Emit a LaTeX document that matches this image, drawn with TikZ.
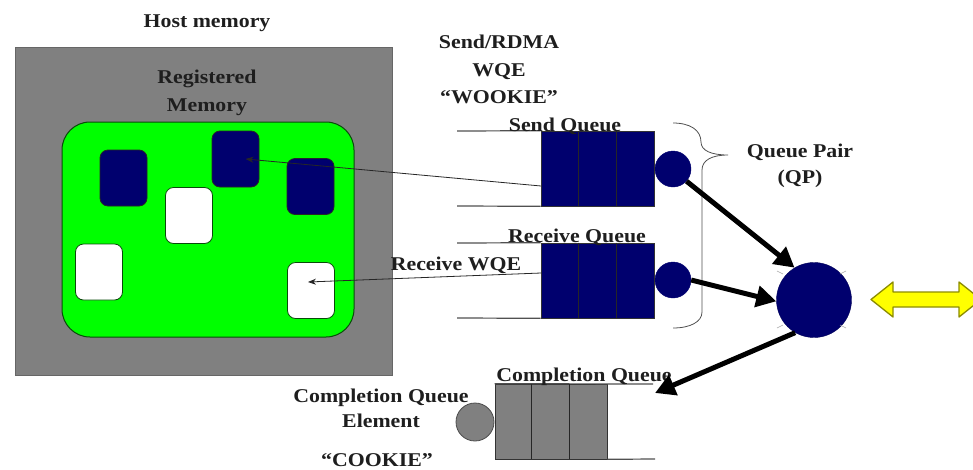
\documentclass[tikz,border=0pt]{standalone}
\usepackage{fontspec}
\setmainfont{Liberation Serif}[FakeStretch=1.12]
\usetikzlibrary{arrows.meta}
\definecolor{navy}{HTML}{00006E}
\definecolor{hostgray}{HTML}{808080}
\definecolor{regreen}{HTML}{00FF00}
\definecolor{dgreen}{HTML}{0A4A0A}
\definecolor{txt}{HTML}{1E1E1E}
\definecolor{qlinec}{HTML}{505050}
\definecolor{yel}{HTML}{FFFF00}
\definecolor{olivec}{HTML}{8C8C00}
\begin{document}
\begin{tikzpicture}[x=1pt,y=-1pt,
  lbl/.style={font=\fontsize{19.5}{24}\selectfont\bfseries, text=txt, anchor=base, inner sep=0pt},
  buf/.style={draw=black!85, line width=0.8pt, rounded corners=8pt, minimum width=47pt, minimum height=56pt, inner sep=0pt},
  dbuf/.style={buf, fill=navy},
  wbuf/.style={buf, fill=white, draw=dgreen},
  qbox/.style={draw=black!80, line width=0.6pt, minimum width=113pt, minimum height=75pt, inner sep=0pt},
  qedge/.style={draw=qlinec, line width=1.2pt},
  divider/.style={draw=black!85, line width=0.7pt},
  port/.style={circle, fill=navy, draw=navy, minimum size=36pt, inner sep=0pt},
  thinarrow/.style={draw=black!85, line width=0.8pt, -{Stealth[length=8pt,width=6pt]}},
  fatarrow/.style={draw=black, line width=5pt, -{Triangle[length=20pt,width=21pt]}},
  tick/.style={draw=gray!70, line width=0.6pt},
]
\useasboundingbox (0,0) rectangle (973,469);
\begin{scope}
\clip (0,0) rectangle (973,469);

% host memory
\node[draw=black!60, fill=hostgray, minimum width=377pt, minimum height=328pt, inner sep=0pt] (host) at (203.5,211) {};
\node[lbl] (hostlbl) at (207,27) {Host memory};
\node[lbl] (reg1) at (207,83) {Registered};
\node[lbl] (reg2) at (207,111) {Memory};
\node[draw=dgreen, line width=1pt, fill=regreen, rounded corners=28pt, minimum width=292pt, minimum height=215pt, inner sep=0pt] (green) at (208,229.5) {};

\node[dbuf] (d1) at (123.5,178) {};
\node[dbuf] (d2) at (235.5,159) {};
\node[dbuf] (d3) at (310.5,186.5) {};
\node[wbuf] (w1) at (189,215.5) {};
\node[wbuf] (w2) at (99,272) {};
\node[wbuf] (w3) at (311,290.5) {};

% labels
\node[lbl] (sr1) at (499,48) {Send/RDMA};
\node[lbl] (sr2) at (499,76) {WQE};
\node[lbl] (sr3) at (499,103) {“WOOKIE”};

% send queue
\node[qbox, fill=navy] (sq) at (597.5,168.5) {};
\coordinate (sqt) at (457,131);
\coordinate (sqb) at (457,206);
\draw[qedge] (sqt) -- (sq.north west);
\draw[qedge] (sqb) -- (sq.south west);
\draw[divider] (sq.north west) ++(37.7,0) -- ++(0,75);
\draw[divider] (sq.north west) ++(75.3,0) -- ++(0,75);
\node[lbl] (sqlbl) at (565,131) {Send Queue};
\node[port] (sp) at (673,169) {};

% receive queue
\node[qbox, fill=navy] (rq) at (597.5,280.5) {};
\coordinate (rqt) at (457,243);
\coordinate (rqb) at (457,318);
\draw[qedge] (rqt) -- (rq.north west);
\draw[qedge] (rqb) -- (rq.south west);
\draw[divider] (rq.north west) ++(37.7,0) -- ++(0,75);
\draw[divider] (rq.north west) ++(75.3,0) -- ++(0,75);
\node[lbl] (rqlbl) at (577,242) {Receive Queue};
\node[port] (rp) at (673,280) {};
\node[lbl] (rwqe) at (456,270) {Receive WQE};

% WQE arrows
\coordinate (sqw) at (541,186);
\coordinate (rqw) at (541,273);
\draw[thinarrow] (sqw) -- ([xshift=10pt]d2.center);
\draw[thinarrow] (rqw) -- ([xshift=-3pt,yshift=8.5pt]w3.center);

% brace
\draw[draw=qlinec, line width=0.8pt] (673,123) .. controls (690,123) and (701,130) .. (701,142)
  .. controls (701,151) and (712,155) .. (728,155)
  .. controls (712,155) and (702,160) .. (702,170) -- (702,312)
  .. controls (702,322) and (690,328) .. (673,328);
\node[lbl] (qplbl1) at (800,157) {Queue Pair};
\node[lbl] (qplbl2) at (800,183) {(QP)};

% QP
\node[circle, fill=navy, draw=navy!80!black, minimum size=75pt, inner sep=0pt] (qp) at (814,300) {};
\draw[tick] (777,271) -- (783,274);
\draw[tick] (846,271) -- (840,274);
\draw[tick] (777,328) -- (783,325);
\draw[tick] (846,328) -- (840,325);

\draw[fatarrow] (sp.-42) -- (qp.121);
\draw[fatarrow] (rp.east) -- (qp.182);

% completion queue
\node[qbox, fill=hostgray, minimum width=112pt] (cq) at (551,421.5) {};
\coordinate (cqt) at (653,384);
\coordinate (cqb) at (655,459);
\draw[qedge] (cq.north west) -- (cqt);
\draw[qedge] (cq.south east) -- (cqb);
\draw[divider] (cq.north west) ++(37,0) -- ++(0,75);
\draw[divider] (cq.north west) ++(75,0) -- ++(0,75);
\node[circle, fill=hostgray, draw=black!70, line width=0.8pt, minimum size=38pt, inner sep=0pt] (ce) at (475,422) {};
\node[lbl] (cqlbl) at (584,381) {Completion Queue};
\coordinate (cqend) at (655,393);
\draw[fatarrow] (qp.240) -- (cqend);

\node[lbl] (ce1) at (381,402) {Completion Queue};
\node[lbl] (ce2) at (381,427) {Element};
\node[lbl] (ce3) at (377,466) {“COOKIE”};

% yellow double arrow
\draw[fill=yel, draw=olivec, line width=1.3pt, line join=round]
  (871,299.5) -- (893,282) -- (893,292) -- (959,292) -- (959,282) -- (981,299.5)
  -- (959,317) -- (959,307) -- (893,307) -- (893,317) -- cycle;
\end{scope}
\end{tikzpicture}
\end{document}
